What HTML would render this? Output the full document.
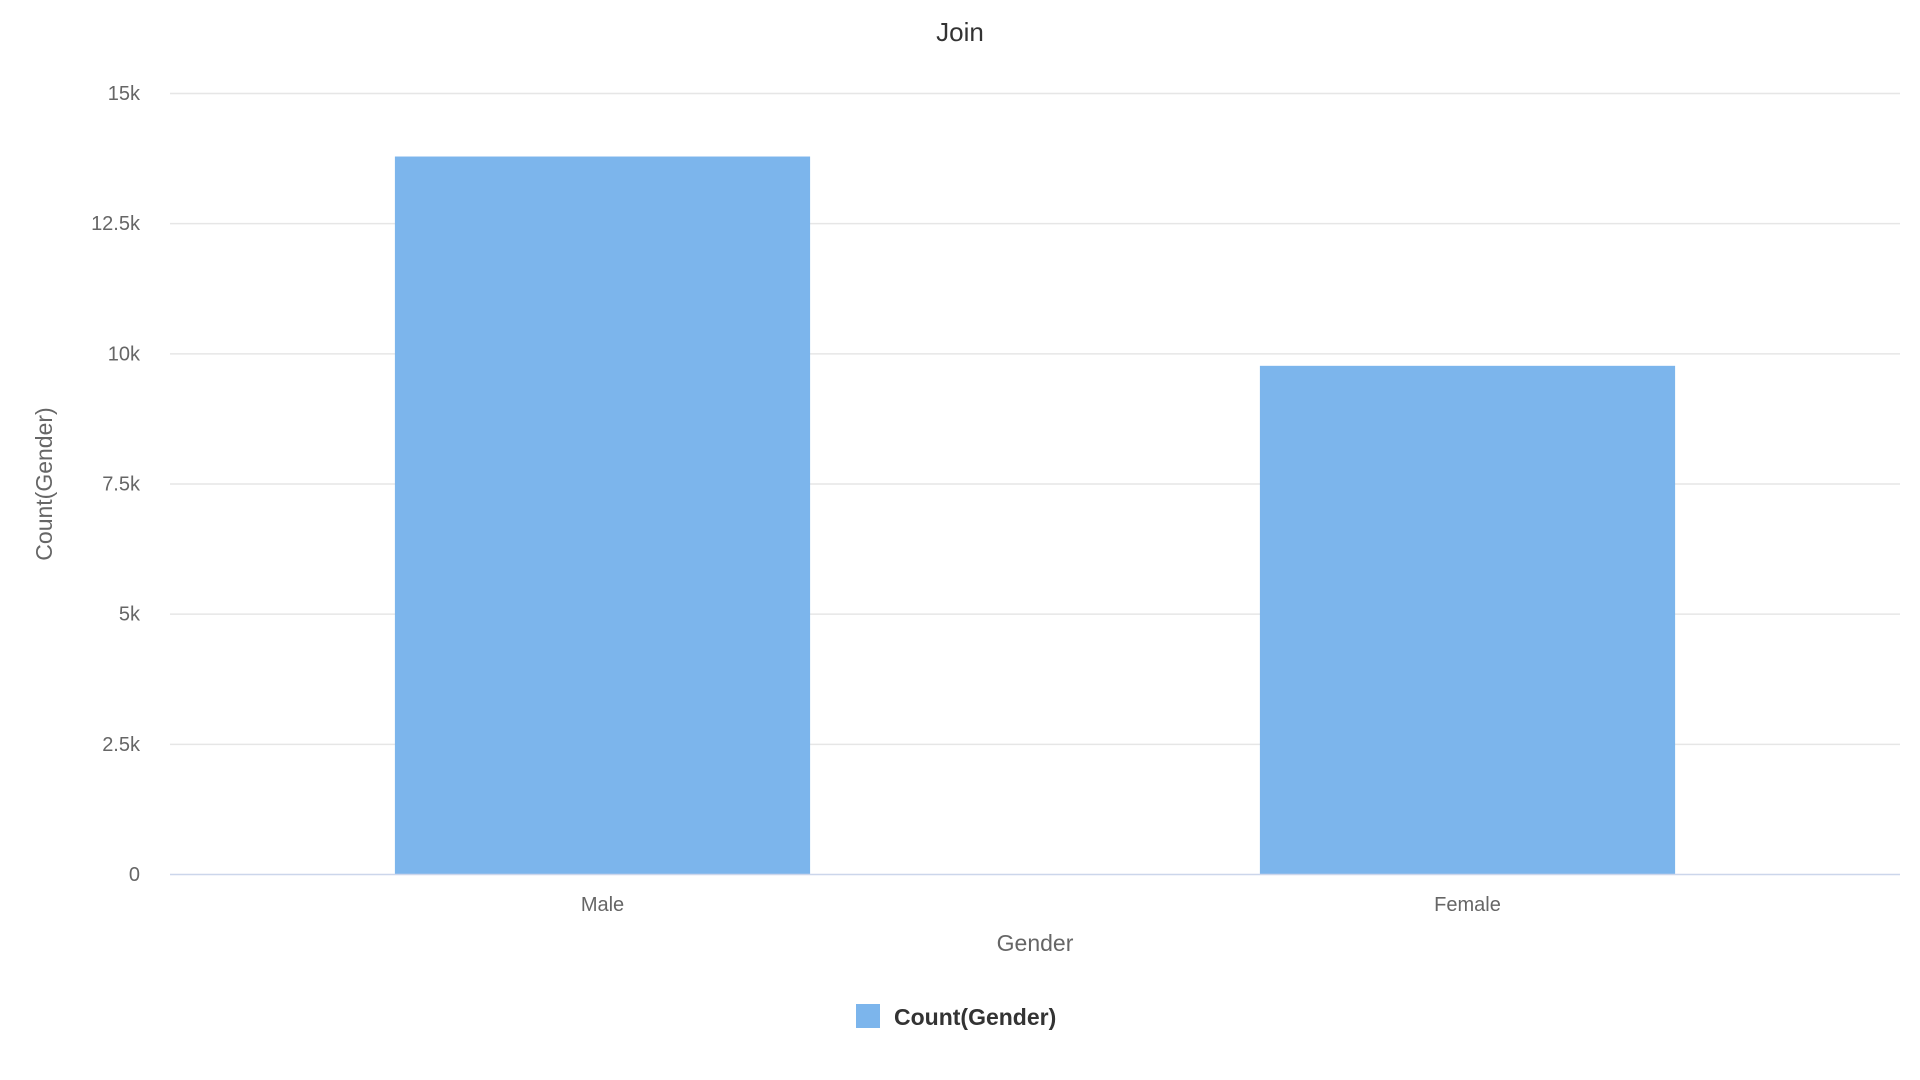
<!DOCTYPE html>
<html><head><meta charset="utf-8"><style>
html,body{margin:0;padding:0;background:#fff;width:1920px;height:1080px;overflow:hidden}
text{font-family:"Liberation Sans",sans-serif}
</style></head><body>
<svg id="chart" width="1920" height="1080" xmlns="http://www.w3.org/2000/svg">
<text x="960" y="41" text-anchor="middle" font-size="26" fill="#333">Join</text>
<g id="grid"></g><g id="bars"></g><g id="xlabels"></g>
<line x1="170" x2="1900" y1="874.5" y2="874.5" stroke="#ccd6eb" stroke-width="1.5"/>
<text x="1035" y="951" text-anchor="middle" font-size="23" fill="#666">Gender</text>
<text transform="translate(52,484) rotate(-90)" text-anchor="middle" font-size="23" fill="#666">Count(Gender)</text>
<g>
<rect x="856" y="1004" width="24" height="24" fill="#7cb5ec"/>
<text x="894" y="1025" font-size="23" font-weight="bold" fill="#333">Count(Gender)</text>
</g>
</svg>
<script>
const categories=["Male","Female"];
const counts=[13780,9760];
const yTicks=[0,2500,5000,7500,10000,12500,15000];
const yTickLabels=["0","2.5k","5k","7.5k","10k","12.5k","15k"];
const L=170,R=1900,T=93,B=874,ymax=15000;
const y=v=>B-(v/ymax)*(B-T);
const band=(R-L)/categories.length;
const x=i=>L+band*i+band/2;
const NS="http://www.w3.org/2000/svg";
function mk(t,a,p){const e=document.createElementNS(NS,t);for(const k in a)e.setAttribute(k,a[k]);p.appendChild(e);return e;}
const grid=document.getElementById('grid');
yTicks.forEach((v,i)=>{
  if(v>0){const l=mk('line',{x1:L,x2:R,y1:y(v)+0.5,y2:y(v)+0.5,stroke:'#e6e6e6','stroke-width':1.5},grid);
  
  }
  const t=mk('text',{x:140,y:y(v)+7,'text-anchor':'end','font-size':20,fill:'#666'},grid);
  t.textContent=yTickLabels[i];
  
  
});
const bars=document.getElementById('bars'),xl=document.getElementById('xlabels');
categories.forEach((c,i)=>{
  const w=band*0.48;
  const r=mk('rect',{x:x(i)-w/2,y:y(counts[i]),width:w,height:B-y(counts[i]),fill:'#7cb5ec'},bars);
  
  
  const t=mk('text',{x:x(i),y:911,'text-anchor':'middle','font-size':20,fill:'#666'},xl);
  t.textContent=c;
  
  
});
</script>
</body></html>
